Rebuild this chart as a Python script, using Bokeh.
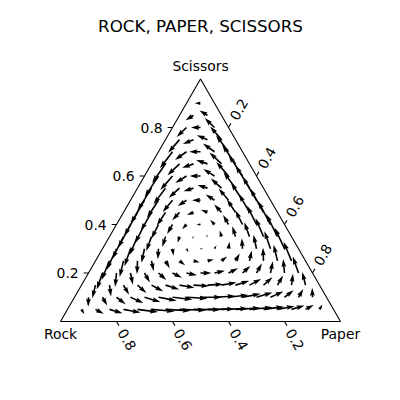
import numpy as np
from bokeh.plotting import figure
from bokeh.models import Range1d
from bokeh.core.properties import value
from bokeh.embed import file_html
from bokeh.resources import INLINE

# ---------------- data ----------------
title_text = "ROCK, PAPER, SCISSORS"
corner_names = ["Rock", "Paper", "Scissors"]
tick_values = [0.2, 0.4, 0.6, 0.8]
tick_labels = ["0.2", "0.4", "0.6", "0.8"]
# payoff matrix (rows/cols: Rock, Paper, Scissors)
payoff = [[0, -1, 1],
          [1, 0, -1],
          [-1, 1, 0]]
grid_divisions = 20  # strategy grid with step 1/20, interior points only

# ---------------- geometry helpers ----------------
PX = 280.0            # pixels per unit triangle side
SQ3 = np.sqrt(3.0) / 2.0
FONT = value("DejaVu Sans")


def cart(r, pp, s):
    return pp + s / 2.0, s * SQ3


# grid of interior states and replicator vectors
A = np.array(payoff, dtype=float)
pts = []
for i in range(1, grid_divisions):
    for j in range(1, grid_divisions - i):
        k = grid_divisions - i - j
        if k < 1:
            continue
        pts.append((i / grid_divisions, j / grid_divisions, k / grid_divisions))
pts = np.array(pts)
fit = pts @ A.T
avg = np.sum(pts * fit, axis=1, keepdims=True)
d = pts * (fit - avg)
X, Y = cart(pts[:, 0], pts[:, 1], pts[:, 2])
U = d[:, 1] + d[:, 2] / 2.0
V = d[:, 2] * SQ3
a = np.hypot(U, V)
N = len(a)
sn = np.clip(np.sqrt(N), 8, 25)
AX_W = 350.0                      # axes width in px
w_px = 0.06 * AX_W / sn           # shaft width
Lu = a / (0.108 * a.mean())       # arrow length in shaft widths

hl, hw, hal, minsh = 5.0, 3.0, 4.5, 5.0
xs_all, ys_all = [], []
for x0, y0, u, v, L in zip(X, Y, U, V, Lu):
    if L < 1.0:
        th = np.arange(0, 6) * np.pi / 3
        px = np.cos(th) * 0.5
        py = np.sin(th) * 0.5
    elif L < minsh:
        sh = L / minsh
        px = sh * np.array([0, minsh - hal, minsh - hl, minsh, minsh - hl, minsh - hal, 0])
        py = sh * 0.5 * np.array([1, 1, hw, 0, -hw, -1, -1])
    else:
        px = np.array([0, L - hal, L - hl, L, L - hl, L - hal, 0])
        py = 0.5 * np.array([1, 1, hw, 0, -hw, -1, -1])
    ang = np.arctan2(v, u)
    c, s_ = np.cos(ang), np.sin(ang)
    rx = (px * c - py * s_) * w_px / PX
    ry = (px * s_ + py * c) * w_px / PX
    xs_all.append(list(x0 + rx))
    ys_all.append(list(y0 + ry))

# ---------------- figure ----------------
p = figure(width=392, height=392, output_backend="svg", toolbar_location=None,
           min_border=0, x_range=Range1d(-60 / PX, 332 / PX),
           y_range=Range1d(-71 / PX, 321 / PX))
p.axis.visible = False
p.grid.visible = False
p.outline_line_color = None
p.background_fill_color = "white"

# arrows
p.patches(xs_all, ys_all, fill_color="black", line_color=None)

# triangle
p.patches([[0, 1, 0.5]], [[0, 0, SQ3]], fill_color=None, line_color="black", line_width=1.1)

tick_len = 4.9 / PX
pad = 4.9 / PX
tv = np.array(tick_values)

# left axis (Scissors): horizontal ticks
lx, ly = cart(0, 0, tv)
p.segment(lx, ly, lx - tick_len, ly, line_color="black", line_width=1.1)
p.text(lx - tick_len - pad, ly, text=tick_labels, text_font=FONT, text_font_size="13.9px",
       text_align="right", text_baseline="middle", text_color="black")

# bottom axis (Rock): ticks down-right
bx, by = cart(tv, 1 - tv, 0)
dxb, dyb = 0.5, -SQ3
p.segment(bx, by, bx + dxb * tick_len, by + dyb * tick_len, line_color="black", line_width=1.1)
p.text(bx + dxb * (tick_len + pad), by + dyb * (tick_len + pad), text=tick_labels, text_font=FONT,
       text_font_size="13.9px", text_align="left", text_baseline="middle", angle=-np.pi / 3,
       text_color="black")

# right axis (Paper): ticks up-right
rx_, ry_ = cart(0, tv, 1 - tv)
dxr, dyr = 0.5, SQ3
p.segment(rx_, ry_, rx_ + dxr * tick_len, ry_ + dyr * tick_len, line_color="black", line_width=1.1)
p.text(rx_ + dxr * (tick_len + pad), ry_ + dyr * (tick_len + pad), text=tick_labels, text_font=FONT,
       text_font_size="13.9px", text_align="left", text_baseline="middle", angle=np.pi / 3,
       text_color="black")

# corner labels
p.text([0.0, 1.0], [-12 / PX, -12 / PX], text=corner_names[:2], text_font=FONT,
       text_font_size="13.9px", text_align="center", text_baseline="middle", text_color="black")
p.text([0.5], [SQ3 + 13 / PX], text=[corner_names[2]], text_font=FONT,
       text_font_size="13.9px", text_align="center", text_baseline="middle", text_color="black")

# title
p.text([140 / PX], [(321 - 25) / PX], text=[title_text], text_font=FONT,
       text_font_size="16.7px", text_align="center", text_baseline="middle", text_color="black")

open("out.html", "w").write(file_html(p, INLINE))
